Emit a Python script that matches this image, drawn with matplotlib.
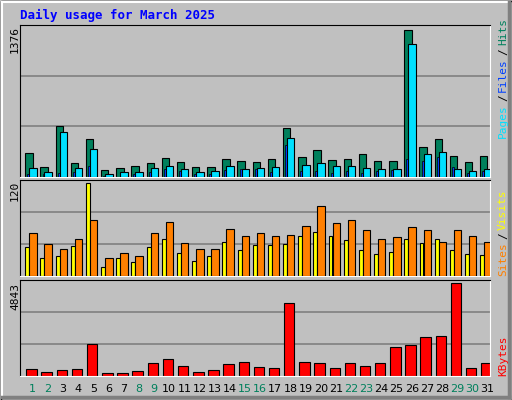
import matplotlib
matplotlib.use("Agg")
import matplotlib.pyplot as plt
import numpy as np
from matplotlib.patches import Rectangle

days = list(range(1, 32))
weekend = [1, 2, 8, 9, 15, 16, 22, 23, 29, 30]
hits = [227,96,479,134,358,68,87,106,134,181,143,96,96,171,152,143,171,461,190,255,162,171,218,152,152,1376,283,358,199,143,199]
files = [87,50,423,87,265,31,50,50,87,106,78,50,59,106,78,87,96,367,115,134,106,106,87,78,78,1245,218,237,78,59,78]
pages = [31,31,40,50,106,12,3,31,50,78,59,31,31,68,78,78,50,302,59,59,40,59,40,59,68,171,152,190,96,40,59]
visits = [37,23,26,39,120,12,23,18,38,48,30,19,26,44,34,40,40,42,52,57,52,47,34,29,31,48,43,48,33,29,27]
sites = [56,42,35,48,72,23,30,26,55,70,43,35,35,61,52,56,52,53,65,90,68,73,60,48,50,63,59,44,60,52,44]
kbytes = [389,230,336,389,1661,177,177,283,654,866,548,230,336,601,707,495,442,3835,707,654,442,654,548,654,1502,1608,2033,2086,4843,442,654]

W, H = 512, 400
fig = plt.figure(figsize=(W/100, H/100), dpi=100)
fig.patch.set_facecolor("#C0C0C0")
bg = fig.add_axes([0, 0, 1, 1]); bg.set_xlim(0, W); bg.set_ylim(H, 0); bg.axis("off")
bg.add_patch(Rectangle((0.5, 0.5), W-1, H-1, fill=False, ec="black", lw=1))
bg.plot([2, W-3], [2, 2], color="white", lw=1.5); bg.plot([2, 2], [2, H-3], color="white", lw=1.5)
bg.plot([W-3, W-3], [2, H-3], color="#808080", lw=2.5); bg.plot([2, W-3], [H-3, H-3], color="#808080", lw=2.5)
mono = "DejaVu Sans Mono"
bg.text(20, 15, "Daily usage for March 2025", color="#0000FF", family=mono, weight="bold", fontsize=9, va="center")

def mkax(y0, y1):
    ax = fig.add_axes([20/W, 1-y1/H, 470/W, (y1-y0)/H])
    ax.set_facecolor("#C0C0C0")
    ax.set_xlim(0, 31)
    ax.set_xticks([]); ax.set_yticks([])
    for s in ["left", "top"]:
        ax.spines[s].set_color("black")
    for s in ["right", "bottom"]:
        ax.spines[s].set_color("white")
    return ax

x = np.arange(31)
def grid(ax, m):
    top = m * 1.035
    ax.set_ylim(0, top)
    for f in (1/3, 2/3):
        ax.axhline(top*f, color="#808080", lw=1.2, zorder=0)

ax1 = mkax(25, 177); grid(ax1, max(hits))
ax1.bar(x+0.59, hits, 0.49, color="#00805C", ec="black", lw=0.8, zorder=2)
ax1.bar(x+0.55, pages, 0.13, color="#0040FF", ec="black", lw=0.5, zorder=3)
ax1.bar(x+0.86, files, 0.49, color="#00E0FF", ec="black", lw=0.8, zorder=4)

ax2 = mkax(180, 276); grid(ax2, max(visits))
ax2.bar(x+0.48, visits, 0.26, color="#FFFF00", ec="black", lw=0.8, zorder=2)
ax2.bar(x+0.86, sites, 0.49, color="#FF8000", ec="black", lw=0.8, zorder=3)

ax3 = mkax(280, 376); grid(ax3, max(kbytes))
ax3.bar(x+0.76, kbytes, 0.69, color="#FF0000", ec="black", lw=0.8, zorder=2)

for d in days:
    px = 20 + (d-1+0.84)*470/31
    bg.text(px, 389, str(d), ha="center", va="center", fontsize=8, family="DejaVu Sans",
            color="#00805C" if d in weekend else "black")

for lab, ytop in [(str(max(hits)), 26), (str(max(visits)), 181), (str(max(kbytes)), 283)]:
    bg.text(15, ytop, lab, rotation=90, ha="center", va="top", fontsize=8, family=mono)

fig.canvas.draw()
renderer = fig.canvas.get_renderer()
def side(parts, ybottom):
    y = ybottom
    for t, c in parts:
        tt = bg.text(503, y, t, rotation=90, ha="center", va="bottom", color=c, fontsize=8, family=mono)
        h = tt.get_window_extent(renderer).height
        y -= h + 3
side([("Pages", "#00E0FF"), ("/", "black"), ("Files", "#0040FF"), ("/", "black"), ("Hits", "#00805C")], 138)
side([("Sites", "#FF8000"), ("/", "black"), ("Visits", "#FFFF00")], 276)
side([("KBytes", "#FF0000")], 376)

fig.savefig("out.png", dpi=100, facecolor=fig.get_facecolor())
